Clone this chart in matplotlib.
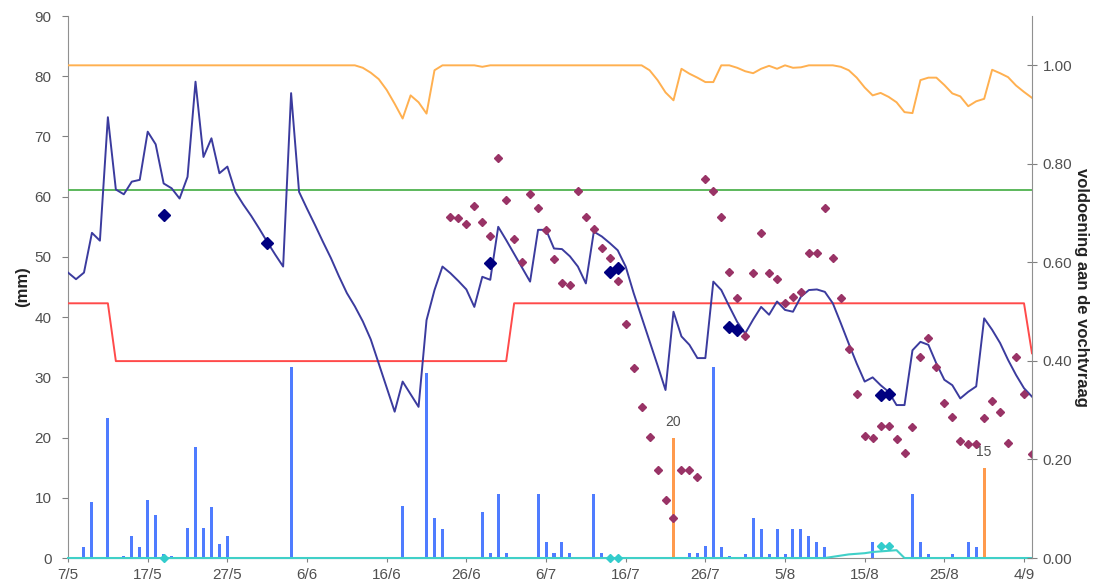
import numpy as np
import matplotlib
matplotlib.use("Agg")
import matplotlib.pyplot as plt

plt.rcParams['font.family'] = ['Liberation Sans', 'DejaVu Sans']

# day numbers counted from 7 May
tick_days = [0, 10, 20, 30, 40, 50, 60, 70, 80, 90, 100, 110, 120]
tick_labels = ["7/5", "17/5", "27/5", "6/6", "16/6", "26/6", "6/7",
               "16/7", "26/7", "5/8", "15/8", "25/8", "4/9"]

# simulated soil moisture (mm), one value per day 0..121
moisture = [47.4, 46.3, 47.4, 54.0, 52.7, 73.2, 61.2, 60.4, 62.5, 62.8,
            70.8, 68.7, 62.2, 61.4, 59.7, 63.3, 79.1, 66.6, 69.7, 63.9,
            65.0, 60.8, 58.7, 56.8, 54.7, 52.5, 50.4, 48.4, 77.2, 60.8,
            58.0, 55.3, 52.5, 49.8, 46.8, 44.0, 41.8, 39.3, 36.3, 32.3,
            28.3, 24.3, 29.3, 27.2, 25.1, 39.5, 44.5, 48.4, 47.3, 46.0,
            44.6, 41.7, 46.7, 46.2, 55.0, 52.8, 50.5, 48.2, 45.9, 54.5,
            54.5, 51.4, 51.3, 50.1, 48.4, 45.6, 54.2, 53.4, 52.3, 51.1,
            48.4, 44.0, 40.0, 36.0, 32.0, 27.9, 40.9, 36.8, 35.4, 33.2,
            33.2, 45.9, 44.5, 41.8, 39.2, 37.3, 39.6, 41.7, 40.4, 42.6,
            41.2, 40.9, 43.4, 44.5, 44.6, 44.2, 42.3, 39.0, 35.6, 32.3,
            29.3, 30.0, 28.7, 27.6, 25.4, 25.4, 34.5, 35.9, 35.4, 32.3,
            29.6, 28.7, 26.5, 27.6, 28.5, 39.8, 37.9, 35.7, 32.9, 30.4,
            28.2, 26.8]

# fraction of the water demand that is met (right axis)
demand_met = [1.0] * 37 + [
    0.995, 0.985, 0.972, 0.950, 0.922, 0.892, 0.939, 0.925, 0.902, 0.990,
    1.0, 1.0, 1.0, 1.0, 1.0, 0.997] + [1.0] * 20 + [
    0.990, 0.970, 0.945, 0.929, 0.993, 0.983, 0.975, 0.966, 0.966, 1.0,
    1.0, 0.995, 0.988, 0.984, 0.993, 0.999, 0.993, 1.0, 0.995, 0.996,
    1.0, 1.0, 1.0, 1.0, 0.997, 0.990, 0.975, 0.955, 0.939, 0.944,
    0.936, 0.925, 0.905, 0.903, 0.970, 0.975, 0.975, 0.960, 0.943, 0.937,
    0.917, 0.927, 0.932, 0.991, 0.984, 0.976, 0.959, 0.946, 0.934]

field_capacity = 61.1
# lower threshold, changes with crop stage
threshold = [42.3] * 6 + [32.7] * 50 + [42.3] * 65 + [34.0]

# measured moisture
meas_days = list(range(48, 122))
meas_vals = [56.7, 56.4, 55.5, 58.5, 55.8, 53.5, 66.5, 59.4, 53.0, 49.2,
             60.4, 58.1, 54.4, 49.6, 45.6, 45.3, 61.0, 56.7, 54.7, 51.4,
             49.9, 46.0, 38.9, 31.6, 25.0, 20.1, 14.6, 9.7, 6.7, 14.6,
             14.6, 13.4, 63.0, 60.9, 56.7, 47.5, 43.2, 36.8, 47.4, 53.9,
             47.4, 46.3, 42.3, 43.3, 44.2, 50.6, 50.6, 58.2, 49.9, 43.1,
             34.7, 27.2, 20.3, 20.0, 21.9, 21.9, 19.8, 17.4, 21.8, 33.4,
             36.5, 31.8, 25.7, 23.5, 19.5, 18.9, 19.0, 23.2, 26.1, 24.2,
             19.1, 33.4, 27.2, 17.2]

# sample moments
sample_days = [12, 25, 53, 68, 69, 83, 84, 102, 103]
sample_vals = [56.9, 52.3, 49.0, 47.5, 48.1, 38.4, 37.9, 27.1, 27.2]
sample_low_days = [12, 68, 69, 102, 103]
sample_low_vals = [0.0, 0.0, 0.0, 2.0, 2.0]

# drainage / percolation (mm)
drain = [0.0] * 96 + [0.2, 0.4, 0.6, 0.7, 0.8, 1.0, 1.1, 1.2, 1.3] + [0.0] * 17

# precipitation (mm)
rain_days = [1, 2, 3, 5, 7, 8, 9, 10, 11, 12, 13, 15, 16, 17, 18, 19, 20, 28,
             42, 45, 46, 47, 52, 53, 54, 55, 59, 60, 61, 62, 63, 66, 67,
             78, 79, 80, 81, 82, 83, 85, 86, 87, 88, 89, 90, 91, 92, 93, 94,
             95, 101, 106, 107, 108, 111, 113, 114]
rain = [0.2, 1.9, 9.3, 23.3, 0.3, 3.7, 1.8, 9.7, 7.1, 0.7, 0.4, 5.0, 18.4,
        5.0, 8.4, 2.3, 3.7, 31.8, 8.6, 30.7, 6.6, 4.8, 7.7, 0.8, 10.7, 0.8,
        10.7, 2.7, 0.8, 2.7, 0.8, 10.7, 0.8, 0.8, 0.8, 2.0, 31.8, 1.9, 0.3,
        0.7, 6.7, 4.8, 0.7, 4.8, 0.7, 4.8, 4.8, 3.7, 2.7, 1.8, 2.7, 10.7,
        2.7, 0.7, 0.7, 2.7, 1.8]

# irrigation (mm)
irr_days = [76, 115]
irr = [20, 15]

days = np.arange(len(moisture))
txt = '#505050'

fig = plt.figure(figsize=(10.94, 5.84), dpi=100)
ax = fig.add_axes([0.0622, 0.0445, 0.8811, 0.928])

ax.bar(rain_days, rain, width=0.38, color='#4F7CFF', zorder=2)
ax.bar(irr_days, irr, width=0.38, color='#FF9A4D', zorder=2)
for d, v in zip(irr_days, irr):
    ax.text(d, v + 1.4, str(v), ha='center', va='bottom', fontsize=10, color=txt)

ax.plot(days, drain, color='#40D0C8', lw=1.5, zorder=3, clip_on=False)
ax.plot(sample_low_days, sample_low_vals, ls='none', marker='D', ms=4,
        color='#33CCCC', zorder=4, clip_on=False)
ax.axhline(field_capacity, color='#5CB85C', lw=1.4, zorder=3)
ax.plot(days, threshold, color='#FF4A4A', lw=1.4, zorder=3)
ax.plot(days, moisture, color='#3B3B9E', lw=1.4, zorder=4)
ax.plot(meas_days, meas_vals, ls='none', marker='D', ms=4.5, color='#993366',
        zorder=5)
ax.plot(sample_days, sample_vals, ls='none', marker='D', ms=6.5,
        color='#000080', zorder=6)

ax.set_xlim(0, 121)
ax.set_ylim(0, 90)
ax.set_yticks(range(0, 91, 10))
ax.set_xticks(tick_days)
ax.set_xticklabels(tick_labels)
ax.set_ylabel("(mm)", fontsize=12, fontweight='bold', color='#222222',
              labelpad=3)
ax.tick_params(axis='both', colors='#808080', labelcolor=txt, labelsize=11)
ax.tick_params(axis='y', direction='out', length=4, pad=8)
ax.tick_params(axis='x', direction='out', length=3, pad=4)
for s in ['left', 'bottom']:
    ax.spines[s].set_color('#909090')
ax.spines['top'].set_visible(False)
ax.spines['right'].set_visible(False)

ax2 = ax.twinx()
ax2.plot(days, demand_met, color='#FFB050', lw=1.4)
ax2.set_ylim(0, 1.1)
ax2.set_yticks([0.0, 0.2, 0.4, 0.6, 0.8, 1.0])
ax2.set_yticklabels(["%.2f" % t for t in [0.0, 0.2, 0.4, 0.6, 0.8, 1.0]])
ax2.tick_params(axis='y', direction='inout', length=7, colors='#808080',
                labelcolor=txt, labelsize=11, pad=4)
ax2.set_ylabel("voldoening aan de vochtvraag", fontsize=12, fontweight='bold',
               color='#222222', rotation=270, labelpad=12)
ax2.spines['right'].set_color('#909090')
ax2.spines['top'].set_visible(False)
ax2.spines['left'].set_visible(False)
ax2.spines['bottom'].set_visible(False)

fig.savefig("out.png", dpi=100)
